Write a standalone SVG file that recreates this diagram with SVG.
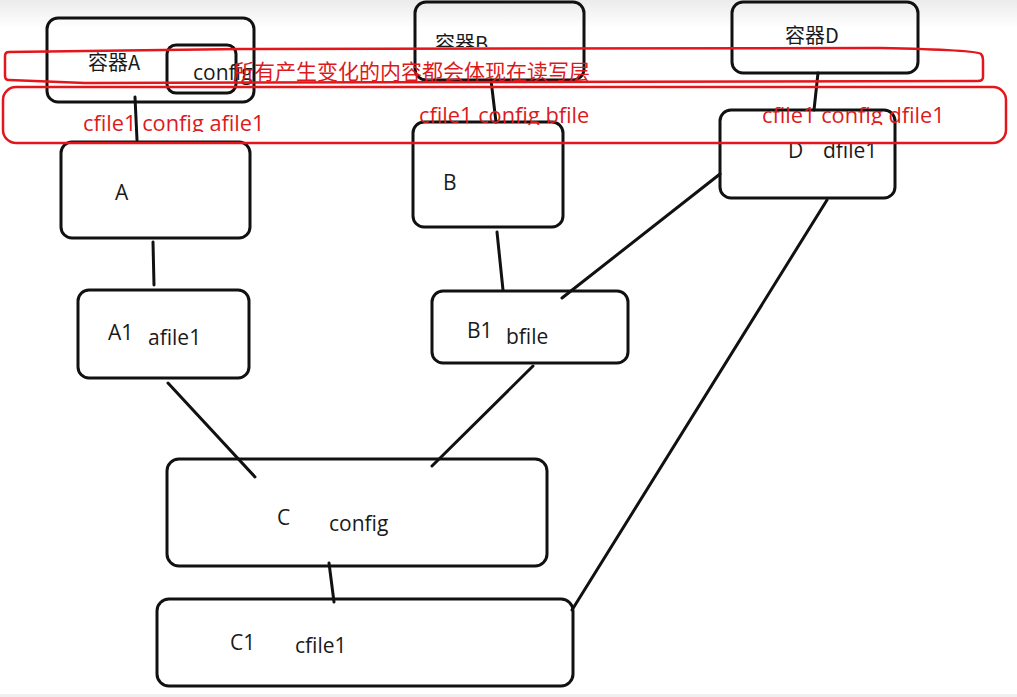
<svg xmlns="http://www.w3.org/2000/svg" width="1017" height="697" viewBox="0 0 1017 697">
<defs>
<linearGradient id="topfade" x1="0" y1="0" x2="0" y2="1">
<stop offset="0" stop-color="#ebebeb"/>
<stop offset="1" stop-color="#ffffff"/>
</linearGradient>
<clipPath id="clipB"><rect x="400" y="0" width="200" height="47"/></clipPath>
<clipPath id="clipRA"><rect x="60" y="100" width="230" height="32"/></clipPath>
<clipPath id="clipRB"><rect x="400" y="95" width="220" height="30"/></clipPath>
<clipPath id="clipRD"><rect x="740" y="95" width="230" height="30"/></clipPath>
</defs>
<style>
.box{fill:none;stroke:#111;stroke-width:3;stroke-linejoin:round}
.edge{fill:none;stroke:#111;stroke-width:3;stroke-linecap:round}
.lbl{font-family:"Open Sans","Noto Sans CJK SC",sans-serif;font-size:21px;fill:#1a1a1a}
.cjk{font-family:"Noto Sans CJK SC","Open Sans",sans-serif;font-size:20px;fill:#1a1a1a}
.red{fill:none;stroke:#e3161b;stroke-width:2.5;stroke-linejoin:round}
.rtxt{font-family:"Open Sans","Noto Sans CJK SC",sans-serif;font-size:21.8px;fill:#dc1a1c}
.rcjk{font-family:"Noto Sans CJK SC",sans-serif;font-size:21px;fill:#dc1a1c}
</style>
<rect x="0" y="0" width="1017" height="697" fill="#ffffff"/>
<rect x="0" y="0" width="1017" height="28" fill="url(#topfade)"/>
<rect x="0" y="694" width="1017" height="3" fill="#efefef"/>

<g id="connectors">
<line class="edge" x1="135" y1="97" x2="137" y2="140"/>
<line class="edge" x1="491" y1="80" x2="496" y2="122"/>
<line class="edge" x1="818" y1="73" x2="814" y2="110"/>
<line class="edge" x1="153" y1="242" x2="154" y2="285"/>
<line class="edge" x1="497" y1="232" x2="503" y2="290"/>
<line class="edge" x1="720" y1="174" x2="562" y2="298"/>
<line class="edge" x1="168" y1="383" x2="255" y2="477"/>
<line class="edge" x1="533" y1="366" x2="432" y2="466"/>
<line class="edge" x1="827" y1="200" x2="572" y2="610"/>
<line class="edge" x1="329" y1="563" x2="334" y2="602"/>
</g>

<g id="containerA">
<rect class="box" x="47" y="18" width="207" height="84" rx="11"/>
<text class="cjk" x="88" y="70">容器A</text>
<rect class="box" x="167" y="45" width="69" height="48" rx="9"/>
<text class="lbl" x="193" y="80">config</text>
</g>
<g id="containerB">
<rect class="box" x="415" y="2" width="169" height="78" rx="11"/>
<text class="cjk" x="435" y="51" clip-path="url(#clipB)">容器B</text>
</g>
<g id="containerD">
<rect class="box" x="732" y="2" width="186" height="71" rx="11"/>
<text class="cjk" x="785" y="43">容器D</text>
</g>
<g id="A">
<rect class="box" x="61" y="142" width="189" height="96" rx="11"/>
<text class="lbl" x="115" y="200">A</text>
</g>
<g id="B">
<rect class="box" x="413" y="122" width="150" height="105" rx="11"/>
<text class="lbl" x="443" y="190">B</text>
</g>
<g id="D">
<rect class="box" x="720" y="110" width="175" height="88" rx="11"/>
<text class="lbl" x="788" y="158">D</text>
<text class="lbl" x="823" y="158">dfile1</text>
</g>
<g id="A1">
<rect class="box" x="78" y="290" width="171" height="88" rx="11"/>
<text class="lbl" x="108" y="340">A1</text>
<text class="lbl" x="148" y="345">afile1</text>
</g>
<g id="B1">
<rect class="box" x="432" y="291" width="196" height="72" rx="11"/>
<text class="lbl" x="467" y="338">B1</text>
<text class="lbl" x="506" y="344">bfile</text>
</g>
<g id="C">
<rect class="box" x="167" y="459" width="380" height="107" rx="12"/>
<text class="lbl" x="277" y="525">C</text>
<text class="lbl" x="329" y="531">config</text>
</g>
<g id="C1">
<rect class="box" x="157" y="599" width="416" height="87" rx="12"/>
<text class="lbl" x="230" y="650">C1</text>
<text class="lbl" x="295" y="653">cfile1</text>
</g>

<g id="annotations">
<path class="red" d="M9,52 L240,49 L880,48 Q978,50 981,54 Q983,56 983,60 L983,77 Q983,81 978,81 L85,83 L9,80 Q5,80 5,76 L5,56 Q5,52 9,52 Z"/>
<text class="rcjk" x="233" y="79">所有产生变化的内容都会体现在读写层</text>
<rect class="red" x="3" y="87" width="1003" height="56" rx="13"/>
<text class="rtxt" x="83" y="131" clip-path="url(#clipRA)">cfile1 config afile1</text>
<text class="rtxt" x="419" y="123" clip-path="url(#clipRB)">cfile1 config bfile</text>
<text class="rtxt" x="762" y="123" clip-path="url(#clipRD)">cfile1 config dfile1</text>
</g>
</svg>
